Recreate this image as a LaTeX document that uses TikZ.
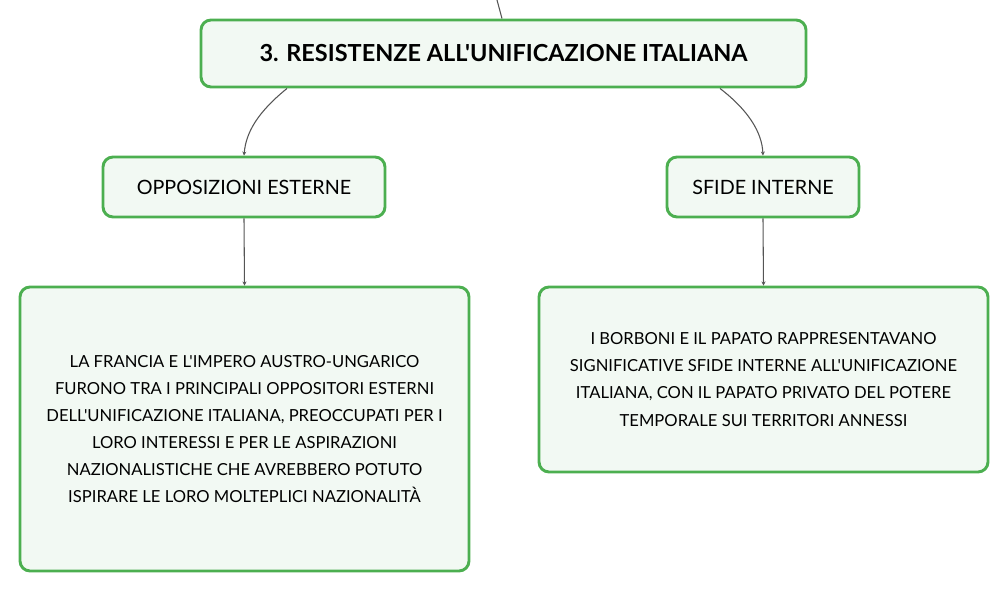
\documentclass[tikz,border=0pt]{standalone}
\usepackage{fontspec}
\setmainfont{Lato}
\newfontfamily\latoplain{Lato}
\usetikzlibrary{arrows.meta}
\definecolor{boxgreen}{HTML}{4CAF50}
\definecolor{boxfill}{HTML}{F2F9F3}
\definecolor{linegray}{HTML}{555555}
\begin{document}
\begin{tikzpicture}[x=0.75pt,y=-0.75pt,
  box/.style={draw=boxgreen,fill=boxfill,line width=2.2pt,rounded corners=7.5pt,inner sep=0pt,align=center,font=\latoplain\fontsize{12.45}{20.3}\selectfont},
  head/.style={box,font=\latoplain\fontsize{14.8}{18}\selectfont},
  conn/.style={draw=linegray,line width=0.8pt,-{Stealth[length=3pt,width=3pt]}}]
\useasboundingbox (0,0) rectangle (1008,591);
\node[box,minimum width=605*0.75pt,minimum height=67*0.75pt,font=\latoplain\fontsize{17.6}{20}\selectfont\bfseries] (title) at (503.5,53.5) {3. RESISTENZE ALL'UNIFICAZIONE ITALIANA};
\node[head,minimum width=282*0.75pt,minimum height=60*0.75pt] (oppo) at (244,187) {OPPOSIZIONI ESTERNE};
\node[head,minimum width=192*0.75pt,minimum height=60*0.75pt] (sfide) at (763,187) {SFIDE INTERNE};
\node[box,minimum width=449*0.75pt,minimum height=284*0.75pt] (left) at (244.5,429) {LA FRANCIA E L'IMPERO AUSTRO-UNGARICO\\FURONO TRA I PRINCIPALI OPPOSITORI ESTERNI\\DELL'UNIFICAZIONE ITALIANA, PREOCCUPATI PER I\\LORO INTERESSI E PER LE ASPIRAZIONI\\NAZIONALISTICHE CHE AVREBBERO POTUTO\\ISPIRARE LE LORO MOLTEPLICI NAZIONALITÀ};
\node[box,minimum width=449*0.75pt,minimum height=185*0.75pt] (right) at (763.5,379.5) {I BORBONI E IL PAPATO RAPPRESENTAVANO\\SIGNIFICATIVE SFIDE INTERNE ALL'UNIFICAZIONE\\ITALIANA, CON IL PAPATO PRIVATO DEL POTERE\\TEMPORALE SUI TERRITORI ANNESSI};
\coordinate (top) at (497,0);
\draw[draw=linegray,line width=0.8pt] (top) -- (title.north -| 502,0);
\draw[conn] (title.south -| 287,0) .. controls (258,112) and (246,132) .. (oppo.north);
\draw[conn] (title.south -| 720,0) .. controls (748,110) and (762,132) .. (sfide.north);
\draw[conn] (oppo.south) -- (left.north);
\draw[conn] (sfide.south) -- (right.north);
\end{tikzpicture}
\end{document}
